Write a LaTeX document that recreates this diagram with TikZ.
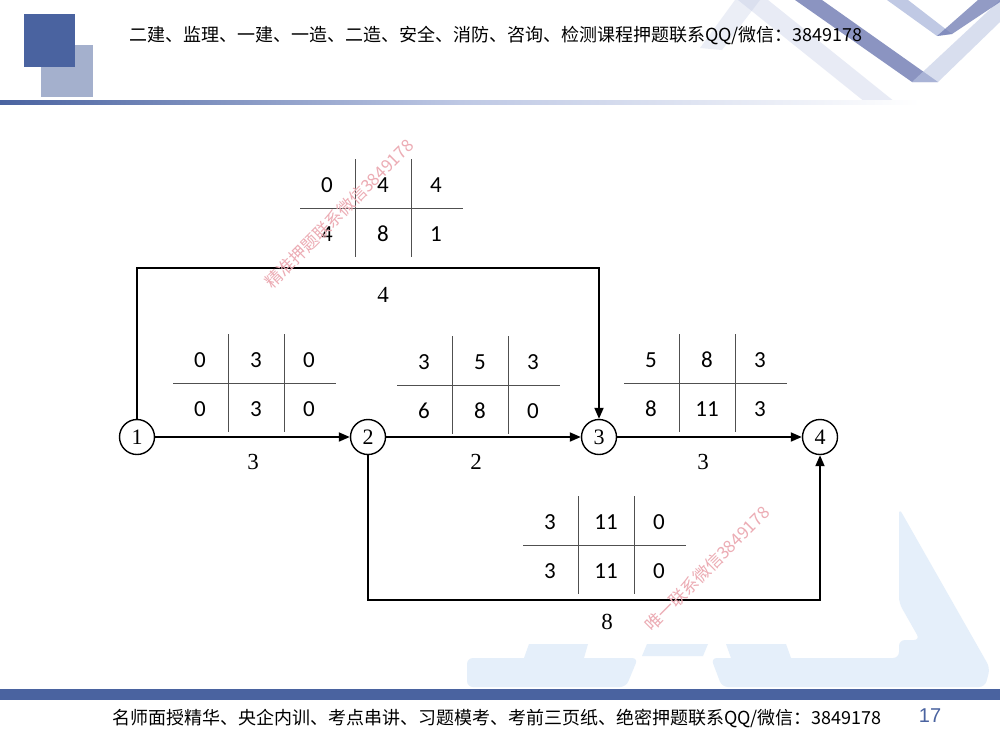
\documentclass[tikz,border=0pt]{standalone}
\usepackage{fontspec}
\usetikzlibrary{arrows.meta,calc}
\newfontfamily\cjk{Noto Sans CJK SC}
\newfontfamily\calib{Carlito}
\newfontfamily\lsans{Liberation Sans}
\newfontfamily\lserif{Liberation Serif}
\definecolor{slideblue}{RGB}{74,99,160}
\definecolor{slidelight}{RGB}{164,176,205}
\definecolor{bgblue}{RGB}{229,239,250}
\definecolor{wmred}{RGB}{236,172,180}
\definecolor{tabgray}{RGB}{80,80,80}
\definecolor{stripeA}{RGB}{190,200,228}
\definecolor{stripeB}{RGB}{110,122,178}
\definecolor{stripeC}{RGB}{150,165,210}
\tikzset{
  netnode/.style={circle, draw, line width=1.4pt, minimum size=35pt, inner sep=0pt, font=\lserif\fontsize{22}{22}\selectfont},
  arr/.style={line width=1.8pt, -{Triangle[length=11pt,width=9pt]}},
  tabline/.style={draw=tabgray, line width=1pt},
  tabval/.style={font=\calib\fontsize{23}{23}\selectfont, inner sep=0pt},
  durlabel/.style={font=\lserif\fontsize{23}{23}\selectfont, inner sep=0pt},
  watermark/.style={text=wmred, font=\cjk\fontsize{17}{17}\selectfont, rotate=45, inner sep=0pt},
  bgshape/.style={fill=bgblue, rounded corners=6pt},
}
\newcommand{\nettab}[9]{%
  \draw[tabline] ({#2-55},#3) -- ({#2+108},#3);
  \draw[tabline] (#2,{#3-49}) -- (#2,{#3+49});
  \draw[tabline] ({#2+56},{#3-49}) -- ({#2+56},{#3+49});
  \node[tabval] (#1a) at ({#2-28},{#3-23}) {#4};
  \node[tabval] (#1b) at ({#2+28},{#3-23}) {#5};
  \node[tabval] (#1c) at ({#2+81},{#3-23}) {#6};
  \node[tabval] (#1d) at ({#2-28},{#3+26}) {#7};
  \node[tabval] (#1e) at ({#2+28},{#3+26}) {#8};
  \node[tabval] (#1f) at ({#2+81},{#3+26}) {#9};
}
\begin{document}
\begin{tikzpicture}[x=1pt,y=-1pt]
\useasboundingbox[fill=white] (0,0) rectangle (1000,750);
% ---- background decoration bottom right
\fill[bgshape] (467,658) -- (638,658) -- (626,687) -- (467,687) -- cycle;
\fill[bgblue] (529,644) -- (588,644) -- (584,658) -- (524,658) -- cycle;
\fill[bgblue] (647,644) -- (708,644) -- (703,656) -- (642,656) -- cycle;
\fill[bgblue] (726,644) -- (786,644) -- (791,658) -- (731,658) -- cycle;
\fill[bgshape] (711,658) -- (899,658) -- (899,640) -- (920,640) -- (899,603) -- (899,508) -- (990,668) -- (985,687) -- (722,687) -- cycle;
% ---- top right decoration
\fill[stripeA, opacity=.35] (738,0) -- (768,0) -- (895,102) -- (865,102) -- cycle;
\fill[stripeA, opacity=.3] (700,48) -- (735,0) -- (760,0) -- (722,50) -- cycle;
\fill[stripeB, opacity=.8] (795,0) -- (822,0) -- (938,82) -- (912,82) -- cycle;
\fill[stripeA, opacity=.6] (912,82) -- (938,82) -- (1000,22) -- (1000,0) -- cycle;
\fill[stripeC, opacity=.6] (887,0) -- (908,0) -- (952,34) -- (937,36) -- cycle;
\fill[stripeB, opacity=.75] (937,36) -- (952,34) -- (1000,2) -- (1000,0) -- (978,0) -- cycle;
% ---- logo squares and lines
\fill[slidelight] (41,45) rectangle (93,97);
\fill[slideblue] (24,14) rectangle (75,67);
\shade[left color=slideblue, right color=white, middle color=stripeA] (0,100) rectangle (920,104);
\fill[slideblue] (0,689) rectangle (1000,700);
% ---- header / footer
\node[anchor=west, inner sep=0pt, font=\cjk\fontsize{18}{20}\selectfont] (hdr) at (129,35) {二建、监理、一建、一造、二造、安全、消防、咨询、检测课程押题联系QQ/微信：3849178};
\node[anchor=west, inner sep=0pt, font=\cjk\fontsize{18}{20}\selectfont] (ftr) at (112,718) {名师面授精华、央企内训、考点串讲、习题模考、考前三页纸、绝密押题联系QQ/微信：3849178};
\node[text=slideblue, inner sep=0pt, font=\lsans\fontsize{20}{20}\selectfont] (pg) at (930,716) {17};
% ---- network
\node[netnode] (n1) at (137,437) {1};
\node[netnode] (n2) at (368,437) {2};
\node[netnode] (n3) at (599,437) {3};
\node[netnode] (n4) at (820,437) {4};
\coordinate (t3) at (599,268);
\coordinate (b4) at (820,600);
\draw[arr] (n1) -- (n2);
\draw[arr] (n2) -- (n3);
\draw[arr] (n3) -- (n4);
\draw[arr] (n1.north) |- (t3) -- (n3.north);
\draw[arr] (n2.south) |- (b4) -- (n4.south);
\node[durlabel] (d12) at (253,462) {3};
\node[durlabel] (d23) at (476,462) {2};
\node[durlabel] (d34) at (703,462) {3};
\node[durlabel] (d13) at (383,295) {4};
\node[durlabel] (d24) at (607,622) {8};
\nettab{tt}{355}{208}{0}{4}{4}{4}{8}{1}
\nettab{ta}{228}{383}{0}{3}{0}{0}{3}{0}
\nettab{tb}{452}{385}{3}{5}{3}{6}{8}{0}
\nettab{tc}{679}{383}{5}{8}{3}{8}{11}{3}
\nettab{td}{578}{545}{3}{11}{0}{3}{11}{0}
% ---- watermarks
\node[watermark] (wm1) at (339,214) {精准押题联系微信3849178};
\node[watermark] (wm2) at (707,569) {唯一联系微信3849178};
\end{tikzpicture}
\end{document}
